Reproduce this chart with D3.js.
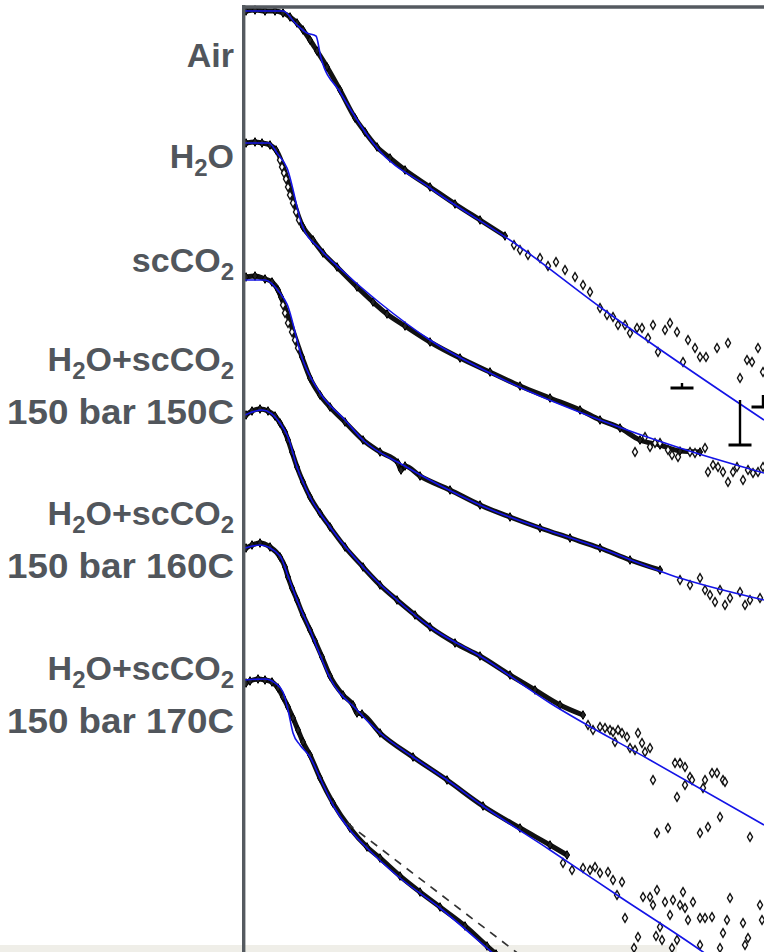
<!DOCTYPE html>
<html>
<head>
<meta charset="utf-8">
<script src="https://cdn.jsdelivr.net/npm/d3@7"></script>
<style>
  html, body { margin: 0; padding: 0; background: #ffffff; }
  svg { display: block; }
</style>
</head>
<body>
<svg id="chart" width="764" height="952"></svg>
<script>
// ---------- DATA (x = log q, arbitrary units; y = log I, curves offset) ----------
const labelLines = [
  [["Air"]],
  [["H", "2", "O"]],
  [["scCO", "2"]],
  [["H", "2", "O+scCO", "2"], ["150 bar 150C"]],
  [["H", "2", "O+scCO", "2"], ["150 bar 160C"]],
  [["H", "2", "O+scCO", "2"], ["150 bar 170C"]]
];
// label baselines expressed in the same log I units as the curves
const labelY = [[-0.62], [-1.63], [-2.67], [-3.66, -4.19], [-5.20, -5.73], [-6.75, -7.28]];

// Air
const airDense = [[0.02,-0.06],[0.11,-0.05],[0.21,-0.06],[0.31,-0.06],[0.39,-0.08],[0.46,-0.12],[0.53,-0.18],[0.59,-0.25],[0.66,-0.35],[0.73,-0.46],[0.83,-0.62],[0.96,-0.85],[1.11,-1.13],[1.21,-1.27],[1.33,-1.42],[1.46,-1.53],[1.61,-1.65],[1.86,-1.82],[2.11,-1.99],[2.36,-2.15],[2.61,-2.31]];
const airSparse = [[2.70,-2.40],[2.76,-2.45],[2.84,-2.50],[2.96,-2.53],[3.04,-2.61],[3.12,-2.57],[3.21,-2.65],[3.31,-2.72],[3.39,-2.80],[3.46,-2.87],[3.56,-3.03],[3.63,-3.10],[3.69,-3.12],[3.74,-3.20],[3.81,-3.20],[3.86,-3.28],[3.93,-3.23],[3.98,-3.23],[4.04,-3.33],[4.09,-3.20],[4.14,-3.47],[4.21,-3.25],[4.26,-3.18],[4.33,-3.27],[4.39,-3.57],[4.44,-3.35],[4.51,-3.43],[4.56,-3.52],[4.62,-3.52],[4.73,-3.43],[4.84,-3.38],[4.96,-3.73],[5.03,-3.55],[5.08,-3.57],[5.14,-3.43],[5.19,-3.67]];
const airFit = [[0.01,-0.06],[0.39,-0.06],[0.52,-0.19],[0.63,-0.28],[0.72,-0.31],[0.77,-0.53],[0.96,-0.87],[1.33,-1.43],[1.86,-1.83],[2.76,-2.42],[3.56,-3.02],[5.20,-4.15]];
const airErr = [[4.38,-3.78,-3.83],[4.96,-3.95,-4.40],[5.19,-3.90,-4.02]];

// H2O
const h2oDense = [[0.02,-1.38],[0.11,-1.37],[0.18,-1.38],[0.26,-1.40],[0.32,-1.45],[0.59,-2.22],[0.69,-2.35],[0.79,-2.48],[0.93,-2.62],[1.13,-2.82],[1.29,-2.97],[1.43,-3.09],[1.61,-3.21],[1.86,-3.37],[2.16,-3.53],[2.46,-3.67],[2.76,-3.81],[3.06,-3.93],[3.36,-4.05],[3.56,-4.15],[3.76,-4.23],[3.96,-4.35],[4.16,-4.40],[4.36,-4.46],[4.56,-4.47]];
const h2oSparse = [[0.36,-1.55],[0.38,-1.62],[0.40,-1.68],[0.42,-1.74],[0.44,-1.82],[0.46,-1.90],[0.49,-1.98],[0.52,-2.07],[0.55,-2.15],[3.91,-4.47],[4.01,-4.32],[4.06,-4.42],[4.11,-4.38],[4.16,-4.38],[4.24,-4.45],[4.28,-4.50],[4.34,-4.52],[4.46,-4.47],[4.51,-4.48],[4.61,-4.43],[4.64,-4.67],[4.69,-4.60],[4.74,-4.62],[4.79,-4.67],[4.84,-4.77],[4.89,-4.67],[4.93,-4.62],[4.99,-4.75],[5.04,-4.65],[5.09,-4.68],[5.14,-4.67],[5.19,-4.62]];
const h2oFit = [[0.01,-1.38],[0.25,-1.38],[0.33,-1.48],[0.43,-1.63],[0.58,-2.20],[0.76,-2.44],[1.01,-2.68],[1.36,-2.98],[1.86,-3.35],[2.56,-3.73],[3.56,-4.15],[4.36,-4.43],[5.20,-4.68]];

// scCO2
const co2Dense = [[0.02,-2.72],[0.11,-2.71],[0.21,-2.74],[0.28,-2.77],[0.34,-2.85],[0.37,-2.92],[0.58,-3.52],[0.66,-3.73],[0.76,-3.90],[0.86,-4.02],[1.01,-4.17],[1.19,-4.35],[1.36,-4.47],[1.54,-4.58],[1.57,-4.65],[1.61,-4.61],[1.76,-4.71],[2.06,-4.85],[2.36,-5.00],[2.66,-5.12],[2.96,-5.23],[3.26,-5.33],[3.56,-5.43],[3.86,-5.55],[4.16,-5.65]];
const co2Sparse = [[0.39,-3.00],[0.41,-3.08],[0.44,-3.18],[0.48,-3.27],[0.51,-3.35],[0.54,-3.43],[4.36,-5.75],[4.46,-5.80],[4.56,-5.73],[4.61,-5.85],[4.66,-5.90],[4.71,-5.97],[4.76,-5.85],[4.81,-6.00],[4.86,-5.93],[4.96,-5.87],[5.01,-6.00],[5.06,-5.95],[5.16,-5.93]];
const co2Fit = [[0.01,-2.75],[0.21,-2.75],[0.36,-2.88],[0.43,-2.99],[0.58,-3.53],[0.76,-3.88],[1.01,-4.15],[1.19,-4.35],[1.59,-4.60],[2.36,-5.00],[3.56,-5.43],[4.36,-5.73],[5.20,-5.95]];

// H2O+scCO2 150 bar 150C
const t150Dense = [[0.02,-4.10],[0.08,-4.06],[0.16,-4.04],[0.24,-4.06],[0.31,-4.11],[0.36,-4.18],[0.41,-4.27],[0.44,-4.35],[0.48,-4.47],[0.53,-4.62],[0.59,-4.77],[0.66,-4.92],[0.76,-5.08],[0.86,-5.22],[1.01,-5.42],[1.19,-5.62],[1.36,-5.80],[1.53,-5.95],[1.71,-6.10],[1.86,-6.22],[2.11,-6.38],[2.36,-6.51],[2.66,-6.70],[2.91,-6.85],[3.16,-7.00],[3.39,-7.10]];
const t150Sparse = [[3.44,-7.20],[3.49,-7.25],[3.56,-7.22],[3.61,-7.23],[3.66,-7.25],[3.69,-7.27],[3.74,-7.25],[3.78,-7.28],[3.71,-7.37],[3.83,-7.32],[3.86,-7.43],[3.91,-7.45],[3.94,-7.28],[3.98,-7.38],[4.01,-7.47],[4.06,-7.43],[4.09,-7.75],[4.31,-7.58],[4.36,-7.58],[4.41,-7.62],[4.46,-7.72],[4.48,-7.75],[4.59,-7.83],[4.61,-7.75],[4.68,-7.68],[4.73,-7.68],[4.79,-7.75],[4.81,-7.77],[4.41,-7.80],[4.33,-7.92],[4.13,-8.28],[4.24,-8.23],[4.56,-8.28],[4.64,-8.22],[4.76,-8.12],[5.06,-8.32]];
const t150Fit = [[0.01,-4.10],[0.18,-4.05],[0.36,-4.18],[0.44,-4.32],[0.53,-4.62],[0.66,-4.92],[0.86,-5.22],[1.19,-5.62],[1.53,-5.95],[1.86,-6.22],[2.36,-6.51],[3.06,-6.98],[4.06,-7.55],[5.20,-8.20]];

// H2O+scCO2 150 bar 160C
const t160Dense = [[0.02,-5.43],[0.08,-5.40],[0.16,-5.38],[0.26,-5.42],[0.36,-5.52],[0.41,-5.62],[0.44,-5.72],[0.48,-5.83],[0.53,-5.95],[0.59,-6.10],[0.66,-6.25],[0.71,-6.36],[0.78,-6.52],[0.86,-6.71],[0.99,-6.90],[1.09,-7.00],[1.13,-7.08],[1.18,-7.09],[1.36,-7.28],[1.69,-7.52],[2.03,-7.75],[2.39,-8.01],[2.76,-8.23],[3.06,-8.40],[3.23,-8.50]];
const t160Sparse = [[3.39,-8.63],[3.19,-8.58],[3.28,-8.65],[3.46,-8.65],[3.51,-8.62],[3.56,-8.68],[3.64,-8.67],[3.69,-8.75],[3.78,-8.77],[3.73,-8.90],[3.81,-9.13],[3.94,-9.32],[3.99,-8.92],[4.06,-8.92],[4.09,-9.00],[4.13,-8.85],[4.16,-9.22],[4.18,-9.35],[4.21,-8.97],[4.26,-9.10],[4.29,-8.95],[4.33,-9.35],[4.36,-9.00],[4.39,-8.87],[4.41,-9.03],[4.44,-9.15],[4.49,-8.97],[4.56,-9.13],[4.61,-9.13],[4.68,-9.12],[4.79,-9.28],[4.83,-9.15],[4.86,-8.93],[4.99,-9.18],[5.04,-9.33],[5.16,-9.00],[5.18,-9.15],[3.90,-9.43],[4.12,-9.31],[4.28,-9.43],[4.56,-9.40],[4.76,-9.43],[5.01,-9.40]];
const t160Fit = [[0.01,-5.43],[0.16,-5.40],[0.36,-5.51],[0.44,-5.71],[0.53,-5.95],[0.66,-6.25],[0.76,-6.50],[0.86,-6.73],[1.13,-7.05],[1.36,-7.28],[1.69,-7.52],[2.03,-7.75],[2.39,-8.01],[3.06,-8.45],[3.76,-8.92],[4.59,-9.47],[4.66,-9.52]];

// H2O+scCO2 150 bar 170C
const t170Dense = [[0.02,-6.78],[0.06,-6.76],[0.14,-6.74],[0.21,-6.75],[0.28,-6.77],[0.34,-6.83],[0.39,-6.92],[0.44,-7.02],[0.49,-7.13],[0.54,-7.25],[0.59,-7.37],[0.66,-7.50],[0.76,-7.73],[0.89,-7.98],[1.06,-8.23],[1.23,-8.42],[1.36,-8.53],[1.56,-8.71],[1.76,-8.87],[1.96,-9.02],[2.21,-9.21],[2.43,-9.41],[2.52,-9.49]];
const t170Fit = [[0.01,-6.75],[0.21,-6.74],[0.31,-6.78],[0.39,-6.87],[0.44,-7.05],[0.49,-7.28],[0.56,-7.40],[0.66,-7.52],[0.76,-7.73],[0.89,-8.00],[1.06,-8.25],[1.23,-8.43],[1.56,-8.73],[1.96,-9.03],[2.43,-9.43],[2.50,-9.49]];
const t170Power = [[1.03,-8.18],[2.76,-9.50]];

const seriesList = [
  { dense: airDense, sparse: airSparse, fit: airFit },
  { dense: h2oDense, sparse: h2oSparse, fit: h2oFit },
  { dense: co2Dense, sparse: co2Sparse, fit: co2Fit },
  { dense: t150Dense, sparse: t150Sparse, fit: t150Fit },
  { dense: t160Dense, sparse: t160Sparse, fit: t160Fit },
  { dense: t170Dense, sparse: [], fit: t170Fit }
];

// ---------- DRAWING ----------
const W = 764, H = 952;
const svg = d3.select("#chart");
const x = d3.scaleLinear().domain([0, 5.2]).range([244, 764]);
const y = d3.scaleLinear().domain([0, -9.47]).range([5, 952]);

svg.append("defs").append("clipPath").attr("id", "plotClip")
  .append("rect").attr("x", 245).attr("y", 5).attr("width", W - 245).attr("height", H - 5);

// bottom band of the source picture
svg.append("rect").attr("x", 0).attr("y", 945).attr("width", 677).attr("height", 7).attr("fill", "#efeee8");

const plot = svg.append("g").attr("clip-path", "url(#plotClip)");
const lineLin = d3.line().x(d => x(d[0])).y(d => y(d[1]));
const lineSmooth = d3.line().x(d => x(d[0])).y(d => y(d[1])).curve(d3.curveMonotoneX);
const diamond = d3.symbol().type(d3.symbolDiamond).size(22);

seriesList.forEach(s => {
  // dense data: overlapping markers forming a thick band
  plot.append("path").datum(s.dense)
    .attr("d", lineSmooth)
    .attr("fill", "none").attr("stroke", "#111").attr("stroke-width", 5)
    .attr("stroke-linejoin", "round").attr("stroke-linecap", "round");
  plot.selectAll(null).data(s.dense).enter().append("path")
    .attr("d", diamond)
    .attr("transform", d => `translate(${x(d[0])},${y(d[1])})`)
    .attr("fill", "#222").attr("stroke", "#000").attr("stroke-width", 1);
  plot.selectAll(null).data(s.sparse).enter().append("path")
    .attr("d", diamond)
    .attr("transform", d => `translate(${x(d[0])},${y(d[1])})`)
    .attr("fill", "#fff").attr("stroke", "#111").attr("stroke-width", 1.4);
});

// power-law dashed line
plot.append("path").datum(t170Power)
  .attr("d", lineLin)
  .attr("fill", "none").attr("stroke", "#333").attr("stroke-width", 1.7)
  .attr("stroke-dasharray", "8,7");

// fits
seriesList.forEach(s => {
  plot.append("path").datum(s.fit)
    .attr("d", lineSmooth)
    .attr("fill", "none").attr("stroke", "#1414e6").attr("stroke-width", 1.6);
});

// error bars on Air
const eb = plot.append("g");
airErr.forEach(e => {
  eb.append("line").attr("x1", x(e[0])).attr("x2", x(e[0]))
    .attr("y1", y(e[1])).attr("y2", y(e[2]))
    .attr("stroke", "#000").attr("stroke-width", 2.4);
  eb.append("line").attr("x1", x(e[0]) - 11.5).attr("x2", x(e[0]) + 11.5)
    .attr("y1", y(e[2])).attr("y2", y(e[2]))
    .attr("stroke", "#000").attr("stroke-width", 3);
});

// frame (left + top)
svg.append("line").attr("x1", 243.7).attr("x2", 243.7).attr("y1", 5).attr("y2", H)
  .attr("stroke", "#555a60").attr("stroke-width", 3.4);
svg.append("line").attr("x1", 242).attr("x2", W).attr("y1", 7).attr("y2", 7)
  .attr("stroke", "#555a60").attr("stroke-width", 3.6);

// labels
const lab = svg.append("g")
  .attr("font-family", "'Liberation Sans', Arial, sans-serif")
  .attr("font-weight", "bold").attr("font-size", 34).attr("fill", "#51565c")
  .attr("text-anchor", "end");
labelLines.forEach((lines, i) => {
  lines.forEach((parts, j) => {
    const t = lab.append("text").attr("x", 234).attr("y", y(labelY[i][j]));
    if (parts.length === 1 && /bar/.test(parts[0])) {
      t.attr("font-size", 35).attr("textLength", 227).attr("lengthAdjust", "spacingAndGlyphs");
    }
    let shifted = false;
    parts.forEach(p => {
      if (p === "2") {
        t.append("tspan").attr("font-size", 24).attr("dy", 8).text("2");
        shifted = true;
      } else {
        const ts = t.append("tspan").text(p);
        if (shifted) { ts.attr("dy", -8); shifted = false; }
      }
    });
  });
});
</script>
</body>
</html>
